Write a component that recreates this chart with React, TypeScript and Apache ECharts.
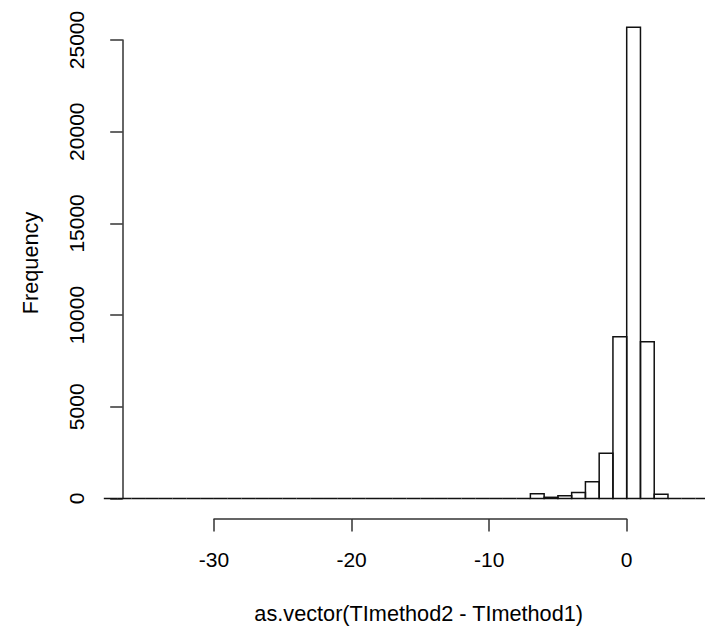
import React, { useEffect, useRef } from "react";
import * as echarts from "echarts";

// Histogram bins (width 1): left edges and frequencies
const binStarts = [
  -38, -37, -36, -35, -34, -33, -32, -31, -30, -29, -28, -27, -26, -25, -24,
  -23, -22, -21, -20, -19, -18, -17, -16, -15, -14, -13, -12, -11, -10, -9,
  -8, -7, -6, -5, -4, -3, -2, -1, 0, 1, 2, 3, 4, 5,
];
const counts = [
  0, 0, 0, 0, 0, 0, 0, 0, 0, 0, 0, 0, 0, 0, 0,
  0, 0, 0, 0, 0, 0, 0, 0, 0, 0, 0, 0, 0, 0, 0,
  0, 255, 65, 150, 330, 916, 2465, 8822, 25690, 8550, 230, 0, 0, 0,
];
const binWidth = 1;
const xTicks = [-30, -20, -10, 0];
const yTicks = [0, 5000, 10000, 15000, 20000, 25000];
const xTitle = "as.vector(TImethod2 - TImethod1)";
const yTitle = "Frequency";

const FONT = "'Liberation Sans', Arial, sans-serif";
const FS = 21;

export default function App() {
  const ref = useRef<HTMLDivElement>(null);
  useEffect(() => {
    if (!ref.current) return;
    const chart = echarts.init(ref.current, null, { renderer: "svg" });
    const data = binStarts.map((s, i) => [s, s + binWidth, counts[i]]);
    const pxPerUnit = 13.76;
    const zeroPx = 626.7;
    const dataMin = -40;
    const dataMax = 5;
    const gridLeft = zeroPx + dataMin * pxPerUnit;
    const gridWidth = (dataMax - dataMin) * pxPerUnit;
    const yAxisX = 122.7;
    chart.setOption({
      animation: false,
      backgroundColor: "#ffffff",
      grid: [
        { left: gridLeft, width: gridWidth, top: 40, height: 458.5 },
        { left: 214, width: zeroPx - 214, top: 518, height: 1 },
      ],
      xAxis: [
        {
          gridIndex: 0,
          type: "value",
          min: dataMin,
          max: dataMax,
          show: false,
          axisLine: { onZero: false },
        },
        {
          gridIndex: 1,
          type: "value",
          min: xTicks[0],
          max: xTicks[xTicks.length - 1],
          interval: 10,
          position: "bottom",
          axisLine: { show: true, onZero: false, lineStyle: { color: "#333", width: 1.5 } },
          axisTick: { show: true, inside: false, length: 12.5, lineStyle: { color: "#333", width: 1.5 } },
          axisLabel: {
            show: true,
            margin: 29.5,
            fontFamily: FONT,
            fontSize: FS,
            color: "#000",
            formatter: (v: number) => String(v),
          },
          splitLine: { show: false },
        },
      ],
      yAxis: [
        {
          gridIndex: 0,
          type: "value",
          min: yTicks[0],
          max: yTicks[yTicks.length - 1],
          interval: 5000,
          position: "left",
          offset: gridLeft - yAxisX,
          axisLine: { show: true, onZero: false, lineStyle: { color: "#333", width: 1.5 } },
          axisTick: { show: true, inside: false, length: 12.5, lineStyle: { color: "#333", width: 1.5 } },
          axisLabel: {
            show: true,
            rotate: 90,
            margin: 36,
            fontFamily: FONT,
            fontSize: FS,
            color: "#000",
            formatter: (v: number) => String(v),
          },
          splitLine: { show: false },
        },
        { gridIndex: 1, type: "value", min: 0, max: 1, show: false, axisLine: { onZero: false } },
      ],
      series: [
        {
          type: "custom",
          xAxisIndex: 0,
          yAxisIndex: 0,
          clip: false,
          data,
          renderItem: (params: any, api: any) => {
            const x0 = api.value(0);
            const x1 = api.value(1);
            const c = api.value(2);
            const p0 = api.coord([x0, c]);
            const p1 = api.coord([x1, 0]);
            return {
              type: "rect",
              shape: { x: p0[0], y: p0[1], width: p1[0] - p0[0], height: p1[1] - p0[1] },
              style: { fill: "none", stroke: "#111", lineWidth: 1.5 },
            };
          },
        },
      ],
      graphic: [
        {
          type: "text",
          x: 30,
          y: 263,
          rotation: Math.PI / 2,
          style: {
            text: yTitle,
            align: "center",
            verticalAlign: "middle",
            fontFamily: FONT,
            fontSize: 21.7,
            fill: "#000",
          },
        },
        {
          type: "text",
          x: 418.7,
          y: 613.5,
          style: {
            text: xTitle,
            align: "center",
            verticalAlign: "middle",
            fontFamily: FONT,
            fontSize: 21.7,
            fill: "#000",
          },
        },
      ],
    });
    return () => chart.dispose();
  }, []);
  return (
    <div
      ref={ref}
      style={{ position: "absolute", left: 0, top: 0, width: 705, height: 632, background: "#fff" }}
    />
  );
}
